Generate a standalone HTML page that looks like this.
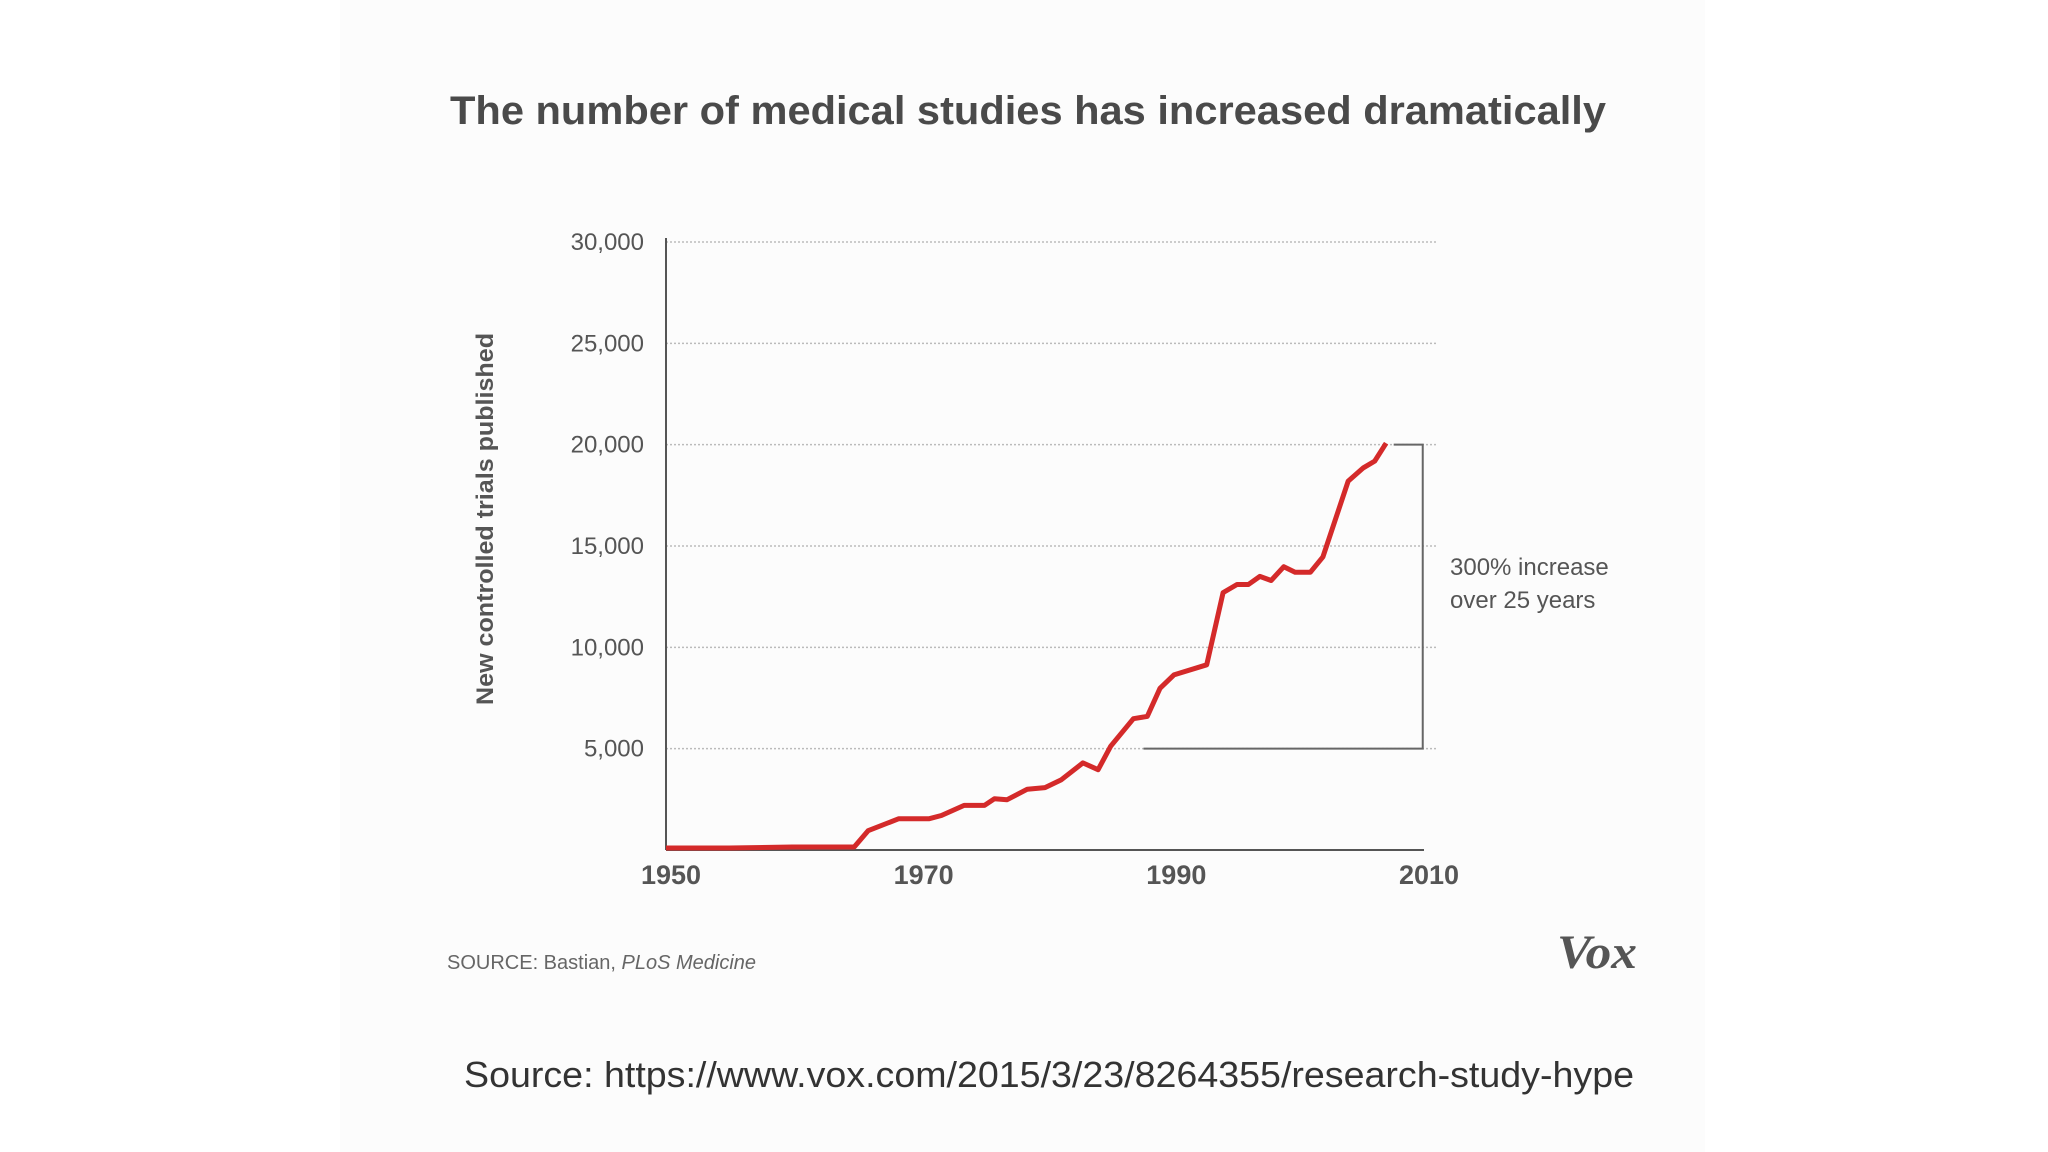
<!DOCTYPE html>
<html><head><meta charset="utf-8"><style>
html,body{margin:0;padding:0;background:#fff;}
svg{display:block;font-family:"Liberation Sans",sans-serif;}
</style></head><body>
<svg id="chart" width="2048" height="1152" viewBox="0 0 2048 1152">
<rect x="0" y="0" width="2048" height="1152" fill="#ffffff"/>
<rect x="340" y="0" width="1365" height="1152" fill="#fcfcfc"/>
<text x="1028" y="124" text-anchor="middle" font-size="40" font-weight="bold" fill="#4a4a4a" textLength="1156" lengthAdjust="spacingAndGlyphs">The number of medical studies has increased dramatically</text>
<g id="grid"></g>
<g id="yticks"></g>
<g id="xticks"></g>
<line x1="666" y1="238" x2="666" y2="850" stroke="#555" stroke-width="2"/>
<line x1="666" y1="850" x2="1424" y2="850" stroke="#555" stroke-width="2"/>
<text transform="translate(493,519) rotate(-90)" text-anchor="middle" font-size="24" font-weight="bold" fill="#555" textLength="372" lengthAdjust="spacingAndGlyphs">New controlled trials published</text>
<path id="bracket" fill="none" stroke="#666" stroke-width="2"/>
<path id="series" fill="none" stroke="#d42a2a" stroke-width="5" stroke-linejoin="round"/>
<text x="1450" y="575" font-size="24" fill="#555">300% increase</text>
<text x="1450" y="608" font-size="24" fill="#555">over 25 years</text>
<text x="447" y="969" font-size="20" fill="#666">SOURCE: Bastian, <tspan font-style="italic">PLoS Medicine</tspan></text>
<text x="1557" y="968" font-size="48" font-family="Liberation Serif,serif" font-weight="bold" font-style="italic" fill="#555" textLength="80" lengthAdjust="spacingAndGlyphs">Vox</text>
<text x="464" y="1087" font-size="36" fill="#333" textLength="1170" lengthAdjust="spacingAndGlyphs">Source: https://www.vox.com/2015/3/23/8264355/research-study-hype</text>
</svg>
<script>
const years = [1950,1955,1960,1964.9,1966,1968.4,1970.8,1971.8,1973.6,1975.2,1976,1977,1978.6,1980,1981.3,1983,1984.2,1985.2,1987,1988.1,1989.1,1990.2,1992.8,1994.1,1995.2,1996.1,1997,1997.9,1998.9,1999.8,2001,2002,2004,2005.2,2006.1,2007];
const trials = [100,100,150,150,950,1540,1540,1700,2200,2200,2530,2480,3000,3080,3470,4300,3960,5120,6480,6590,7980,8640,9140,12700,13100,13100,13500,13300,13980,13700,13700,14460,18200,18860,19190,20070];
const yTicks = [5000,10000,15000,20000,25000,30000];
const yTickLabels = ["5,000","10,000","15,000","20,000","25,000","30,000"];
const xTicks = [1950,1970,1990,2010];
const NS='http://www.w3.org/2000/svg';
const xS = v => 666 + (v-1950)*(1424-666)/60;
const yS = v => 850 - v*(850-242)/30000;
const grid=document.getElementById('grid'), yt=document.getElementById('yticks'), xt=document.getElementById('xticks');
yTicks.forEach((t,i)=>{
  const l=document.createElementNS(NS,'line');
  l.setAttribute('x1',666);l.setAttribute('x2',1438);l.setAttribute('y1',yS(t));l.setAttribute('y2',yS(t));
  l.setAttribute('stroke','#bbb');l.setAttribute('stroke-width','1.5');l.setAttribute('stroke-dasharray','2 2');
  
  
  grid.appendChild(l);
  const tx=document.createElementNS(NS,'text');
  tx.setAttribute('x',644);tx.setAttribute('y',yS(t)+8);tx.setAttribute('text-anchor','end');
  tx.setAttribute('font-size','24');tx.setAttribute('fill','#555');tx.textContent=yTickLabels[i];
  
  
  yt.appendChild(tx);
});
xTicks.forEach(t=>{
  const tx=document.createElementNS(NS,'text');
  tx.setAttribute('x',xS(t)+5);tx.setAttribute('y',884);tx.setAttribute('text-anchor','middle');
  tx.setAttribute('font-size','27');tx.setAttribute('font-weight','bold');tx.setAttribute('fill','#555');tx.textContent=t;
  
  
  xt.appendChild(tx);
});
document.getElementById('series').setAttribute('d', years.map((y,i)=>(i?'L':'M')+xS(y).toFixed(1)+' '+yS(trials[i]).toFixed(1)).join(' '));
document.getElementById('bracket').setAttribute('d','M'+xS(2007.6)+' '+yS(20000)+' L'+xS(2009.9)+' '+yS(20000)+' L'+xS(2009.9)+' '+yS(5000)+' L'+xS(1987.8)+' '+yS(5000));
</script>
</body></html>
